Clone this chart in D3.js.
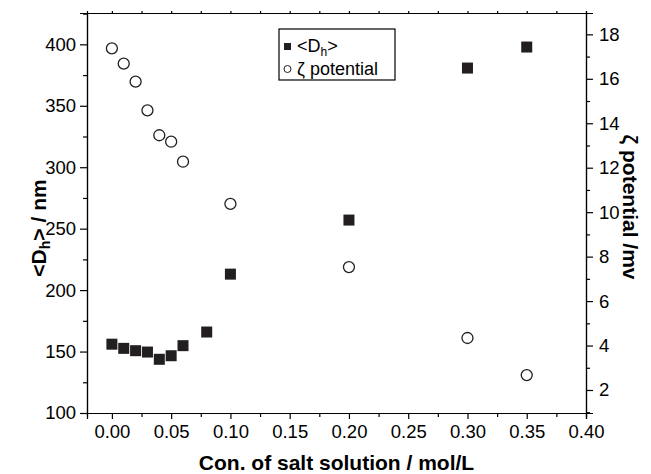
<!DOCTYPE html>
<html>
<head>
<meta charset="utf-8">
<script src="https://cdn.jsdelivr.net/npm/d3@7"></script>
<style>
  body { margin: 0; background: #fff; }
  svg { display: block; font-family: "Liberation Sans", Arial, Helvetica, sans-serif; }
</style>
</head>
<body>
<svg id="chart" width="651" height="474"></svg>
<script>
// Salt concentration (mol/L) at each measurement
const concentration = [0.00, 0.01, 0.02, 0.03, 0.04, 0.05, 0.06, 0.08, 0.10, 0.20, 0.30, 0.35];
// Mean hydrodynamic diameter <Dh> (nm)
const diameter = [156, 152.6, 150.7, 149.6, 143.7, 146.6, 154.8, 165.9, 213, 257, 380.7, 397.8];
// Zeta potential concentrations and values (mV)
const zetaConc = [0.00, 0.01, 0.02, 0.03, 0.04, 0.05, 0.06, 0.10, 0.20, 0.30, 0.35];
const zeta = [17.37, 16.68, 15.87, 14.58, 13.46, 13.17, 12.27, 10.37, 7.53, 4.34, 2.67];

const xTicks = [0.00, 0.05, 0.10, 0.15, 0.20, 0.25, 0.30, 0.35, 0.40];
const leftTicks = [100, 150, 200, 250, 300, 350, 400];
const rightTicks = [2, 4, 6, 8, 10, 12, 14, 16, 18];

const margin = { left: 87, top: 13 };
const width = 499, height = 400;

const svg = d3.select("#chart");
const g = svg.append("g").attr("transform", `translate(${margin.left},${margin.top})`);

const x = d3.scaleLinear().domain([-0.021, 0.40]).range([0, width]);
const yL = d3.scaleLinear().domain([100, 425.5]).range([height, 0]);
const yR = d3.scaleLinear().domain([0.965, 18.96]).range([height, 0]);

const fmt2 = d3.format(".2f");
const tickFont = "18.5px";

function styleAxis(sel) {
  sel.selectAll("path.domain").attr("stroke", "#000").attr("stroke-width", 1.2);
  sel.selectAll(".tick line").attr("stroke", "#000").attr("stroke-width", 1.2);
  sel.selectAll(".tick text").attr("fill", "#000").style("font-size", tickFont)
    .style("font-family", '"Liberation Sans", Arial, sans-serif');
}

// minor ticks
const xMinor = d3.range(0.025, 0.40, 0.05);
const leftMinor = d3.range(125, 426, 50);
const rightMinor = d3.range(1, 19, 2);

// bottom axis
g.append("g").attr("transform", `translate(0,${height})`)
  .call(d3.axisBottom(x).tickValues(xMinor).tickSize(4).tickFormat(""))
  .call(styleAxis);
g.append("g").attr("transform", `translate(0,${height})`)
  .call(d3.axisBottom(x).tickValues(xTicks).tickSize(6).tickPadding(6).tickFormat(fmt2))
  .call(styleAxis);

// top axis (short outward ticks, no labels)
g.append("g")
  .call(d3.axisTop(x).tickValues(xTicks.concat(xMinor)).tickSize(2).tickFormat(""))
  .call(styleAxis);

// left axis
g.append("g")
  .call(d3.axisLeft(yL).tickValues(leftMinor).tickSize(4).tickFormat(""))
  .call(styleAxis);
g.append("g")
  .call(d3.axisLeft(yL).tickValues(leftTicks).tickSize(7).tickPadding(4))
  .call(styleAxis);

// right axis
g.append("g").attr("transform", `translate(${width},0)`)
  .call(d3.axisRight(yR).tickValues(rightMinor).tickSize(4).tickFormat(""))
  .call(styleAxis);
g.append("g").attr("transform", `translate(${width},0)`)
  .call(d3.axisRight(yR).tickValues(rightTicks).tickSize(7).tickPadding(6))
  .call(styleAxis);

// <Dh> squares
const sq = 11;
g.append("g").selectAll("rect")
  .data(concentration.map((c, i) => [c, diameter[i]]))
  .join("rect")
  .attr("x", d => x(d[0]) - sq / 2)
  .attr("y", d => yL(d[1]) - sq / 2)
  .attr("width", sq).attr("height", sq)
  .attr("fill", "#231f20");

// zeta potential circles
g.append("g").selectAll("circle")
  .data(zetaConc.map((c, i) => [c, zeta[i]]))
  .join("circle")
  .attr("cx", d => x(d[0]))
  .attr("cy", d => yR(d[1]))
  .attr("r", 5.5)
  .attr("fill", "none")
  .attr("stroke", "#231f20")
  .attr("stroke-width", 1.3);

// legend
const lg = svg.append("g").attr("transform", "translate(279,29)");
lg.append("rect").attr("width", 116).attr("height", 51)
  .attr("fill", "#fff").attr("stroke", "#000").attr("stroke-width", 1.2);
lg.append("rect").attr("x", 5).attr("y", 14).attr("width", 7).attr("height", 7).attr("fill", "#231f20");
const t1 = lg.append("text").attr("x", 18).attr("y", 23).style("font-size", "18px");
t1.append("tspan").text("<D");
t1.append("tspan").attr("baseline-shift", "-30%").style("font-size", "12px").text("h");
t1.append("tspan").text(">");
lg.append("circle").attr("cx", 8.5).attr("cy", 40).attr("r", 3.5)
  .attr("fill", "none").attr("stroke", "#231f20").attr("stroke-width", 1);
lg.append("text").attr("x", 18).attr("y", 46).style("font-size", "18px").text("ζ potential");

// axis titles
svg.append("text")
  .attr("x", margin.left + width / 2).attr("y", 470)
  .attr("text-anchor", "middle")
  .style("font-size", "21px").style("font-weight", "bold")
  .text("Con. of salt solution / mol/L");

const lt = svg.append("text")
  .attr("transform", "translate(46,228) rotate(-90)")
  .attr("text-anchor", "middle")
  .style("font-size", "21px").style("font-weight", "bold");
lt.append("tspan").text("<D");
lt.append("tspan").attr("baseline-shift", "-30%").style("font-size", "14px").text("h");
lt.append("tspan").text("> / nm");

svg.append("text")
  .attr("transform", "translate(623,207) rotate(90)")
  .attr("text-anchor", "middle")
  .style("font-size", "21px").style("font-weight", "bold")
  .text("ζ potential /mv");
</script>
</body>
</html>
